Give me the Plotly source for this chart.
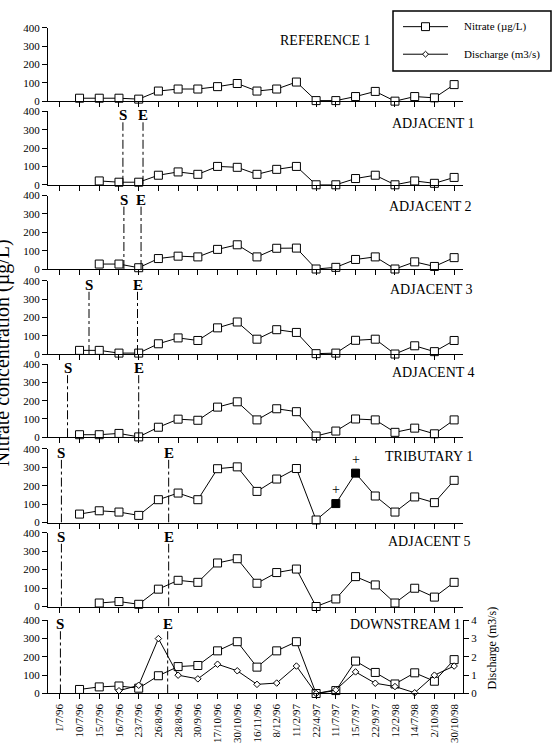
import plotly.graph_objects as go

W, H = 558, 748

dates = ["1/7/96", "10/7/96", "15/7/96", "16/7/96", "23/7/96", "26/8/96", "28/8/96",
         "30/9/96", "17/10/96", "30/10/96", "16/11/96", "8/12/96", "11/2/97", "22/4/97",
         "11/7/97", "15/7/97", "22/9/97", "12/2/98", "14/7/98", "2/10/98", "30/10/98"]

site_names = ["REFERENCE 1", "ADJACENT 1", "ADJACENT 2", "ADJACENT 3", "ADJACENT 4",
              "TRIBUTARY 1", "ADJACENT 5", "DOWNSTREAM 1"]

reference_1 = [None, 16, 16, 16, 11, 55, 66, 66, 79, 96, 55, 66, 104, 3, 3, 25, 53, 0, 25, 18, 90]
adjacent_1 = [None, None, 21, 14, 14, 52, 70, 57, 100, 95, 57, 84, 100, 0, 0, 34, 52, 0, 21, 8, 40]
adjacent_2 = [None, None, 27, 27, 7, 57, 70, 66, 107, 132, 66, 113, 114, 0, 9, 52, 66, 0, 39, 14, 62]
adjacent_3 = [None, 20, 20, 5, 5, 56, 88, 74, 143, 175, 81, 133, 118, 2, 5, 75, 81, 0, 45, 13, 74]
adjacent_4 = [None, 14, 14, 21, 2, 55, 99, 93, 165, 194, 95, 156, 140, 7, 34, 100, 95, 27, 50, 19, 95]
tributary_1 = [None, 46, 64, 57, 39, 124, 160, 124, 292, 302, 169, 236, 293, 14, 103, 268, 144, 57, 139, 108, 229]
adjacent_5 = [None, None, 19, 27, 12, 94, 142, 131, 236, 259, 126, 184, 203, 0, 41, 162, 117, 19, 99, 51, 131]
downstream_1 = [None, 22, 36, 41, 29, 97, 147, 153, 233, 283, 144, 233, 283, 0, 16, 177, 115, 52, 113, 67, 185]

discharge_downstream = [None, None, None, 0.15, 0.45, 3.0, 1.0, 0.8, 1.6, 1.24, 0.5, 0.57, 1.5,
                        0.0, 0.2, 1.18, 0.56, 0.38, 0.04, 1.0, 1.5]

tributary_flagged = ["11/7/97", "15/7/97"]

# start (S) / end (E) positions, in category-index units
start_pos = [None, 3.2, 3.25, 1.48, 0.39, 0.08, 0.08, 0.03]
end_pos = [None, 4.22, 4.12, 3.94, 4.0, 5.52, 5.52, 5.47]

legend_labels = ["Nitrate (µg/L)", "Discharge (m3/s)"]

nitrate = [reference_1, adjacent_1, adjacent_2, adjacent_3, adjacent_4,
           tributary_1, adjacent_5, downstream_1]

# layout in pixels
panel_top = [22, 107, 192.7, 279.3, 364, 450, 535.3, 624.3]
panel_bot = [96.7, 181.7, 267.3, 353.7, 438.3, 525, 610.3, 698.7]
title_right = [373, 477, 474, 475, 477, 475, 473, 463]
title_y = [35, 119, 204, 288, 372, 458, 544, 629]
X0, X1 = 48, 463
FONT = "Liberation Serif"
INK = "black"


def px(x):
    return x / W


def py(y):
    return 1 - y / H


fig = go.Figure()
layout = dict(
    width=W, height=H, margin=dict(l=0, r=0, t=0, b=0),
    paper_bgcolor="white", plot_bgcolor="white",
    font=dict(family=FONT, color=INK, size=11), showlegend=False,
)

for k, vals in enumerate(nitrate):
    n = k + 1
    colors = ["white"] * len(dates)
    if site_names[k] == "TRIBUTARY 1":
        colors = ["black" if d in tributary_flagged else "white" for d in dates]
    fig.add_trace(go.Scatter(
        x=dates, y=vals, mode="lines+markers", name=legend_labels[0],
        line=dict(color=INK, width=1),
        marker=dict(symbol="square", size=8, color=colors, line=dict(color=INK, width=1)),
        cliponaxis=False, xaxis=f"x{n}", yaxis=f"y{n}",
    ))
    last = (k == len(nitrate) - 1)
    layout[f"xaxis{n}"] = dict(
        domain=[px(X0), px(X1)], anchor=f"y{n}", type="category",
        categoryorder="array", categoryarray=dates, range=[-0.6, 20.45],
        showline=True, linecolor=INK, linewidth=1, ticks="outside", ticklen=5,
        tickcolor=INK, showgrid=False, zeroline=False,
        showticklabels=last, tickangle=-90, tickfont=dict(size=11, family=FONT, color=INK),
    )
    layout[f"yaxis{n}"] = dict(
        domain=[py(panel_bot[k]), py(panel_top[k])], anchor=f"x{n}",
        range=[0, 400], tickvals=[0, 100, 200, 300, 400],
        showline=True, linecolor=INK, linewidth=1, ticks="outside", ticklen=5,
        tickcolor=INK, showgrid=False, zeroline=False,
        tickfont=dict(size=11, family=FONT, color=INK),
    )

fig.add_trace(go.Scatter(
    x=dates, y=discharge_downstream, mode="lines+markers", name=legend_labels[1],
    line=dict(color=INK, width=1),
    marker=dict(symbol="diamond", size=5, color="white", line=dict(color=INK, width=1)),
    cliponaxis=False, xaxis="x8", yaxis="y9",
))
layout["yaxis9"] = dict(
    overlaying="y8", side="right", anchor="x8", range=[0, 4], tickvals=[0, 1, 2, 3, 4],
    showline=True, linecolor=INK, linewidth=1, ticks="outside", ticklen=5,
    tickcolor=INK, showgrid=False, zeroline=False,
    tickfont=dict(size=11, family=FONT, color=INK),
)

annotations = []
shapes = []
for k in range(8):
    n = k + 1
    annotations.append(dict(
        text=site_names[k], xref="paper", yref="paper", x=px(title_right[k]),
        y=py(title_y[k]), xanchor="right", yanchor="middle", showarrow=False,
        font=dict(size=14, family=FONT, color=INK),
    ))
    for pos, lab in ((start_pos[k], "S"), (end_pos[k], "E")):
        if pos is None:
            continue
        shapes.append(dict(
            type="line", xref=f"x{n}", yref=f"y{n}", x0=pos, x1=pos, y0=0, y1=340,
            line=dict(color=INK, width=1, dash="dashdot"),
        ))
        annotations.append(dict(
            text=f"<b>{lab}</b>", xref=f"x{n}", yref=f"y{n}", x=pos, y=400,
            xanchor="center", yanchor="middle", yshift=-4, showarrow=False,
            font=dict(size=15, family=FONT, color=INK),
        ))

for d in tributary_flagged:
    annotations.append(dict(
        text="+", xref="x6", yref="y6", x=d, y=tributary_1[dates.index(d)],
        yshift=14, showarrow=False, font=dict(size=14, family=FONT, color=INK),
    ))

annotations.append(dict(
    text="Nitrate concentration (µg/L)", xref="paper", yref="paper", x=px(2), y=py(353),
    xanchor="center", yanchor="middle", textangle=-90, showarrow=False,
    font=dict(size=20, family=FONT, color=INK),
))
annotations.append(dict(
    text="Discharge (m3/s)", xref="paper", yref="paper", x=px(492), y=py(653),
    xanchor="center", yanchor="middle", textangle=-90, showarrow=False,
    font=dict(size=12, family=FONT, color=INK),
))

# hand-drawn legend box (paper coordinates)
shapes.append(dict(type="rect", xref="paper", yref="paper", x0=px(393), x1=px(551),
                   y0=py(66), y1=py(5), line=dict(color=INK, width=1.5), fillcolor="white",
                   layer="above"))
for i, (ly, lab) in enumerate(zip([21, 49], legend_labels)):
    shapes.append(dict(type="line", xref="paper", yref="paper", x0=px(403), x1=px(448),
                       y0=py(ly), y1=py(ly), line=dict(color=INK, width=1), layer="above"))
    annotations.append(dict(text=lab, xref="paper", yref="paper", x=px(462), y=py(ly),
                            xanchor="left", yanchor="middle", showarrow=False,
                            font=dict(size=11, family=FONT, color=INK)))
# legend symbols: square (nitrate) and small diamond (discharge)
shapes.append(dict(type="rect", xref="paper", yref="paper", x0=px(421.5), x1=px(429.5),
                   y0=py(25), y1=py(17), line=dict(color=INK, width=1), fillcolor="white",
                   layer="above"))
shapes.append(dict(type="path", xref="paper", yref="paper",
                   path=(f"M {px(422.5)} {py(49)} L {px(425.5)} {py(46)} "
                         f"L {px(428.5)} {py(49)} L {px(425.5)} {py(52)} Z"),
                   line=dict(color=INK, width=1), fillcolor="white", layer="above"))

layout["annotations"] = annotations
layout["shapes"] = shapes
fig.update_layout(**layout)
fig.write_html("out.html")
